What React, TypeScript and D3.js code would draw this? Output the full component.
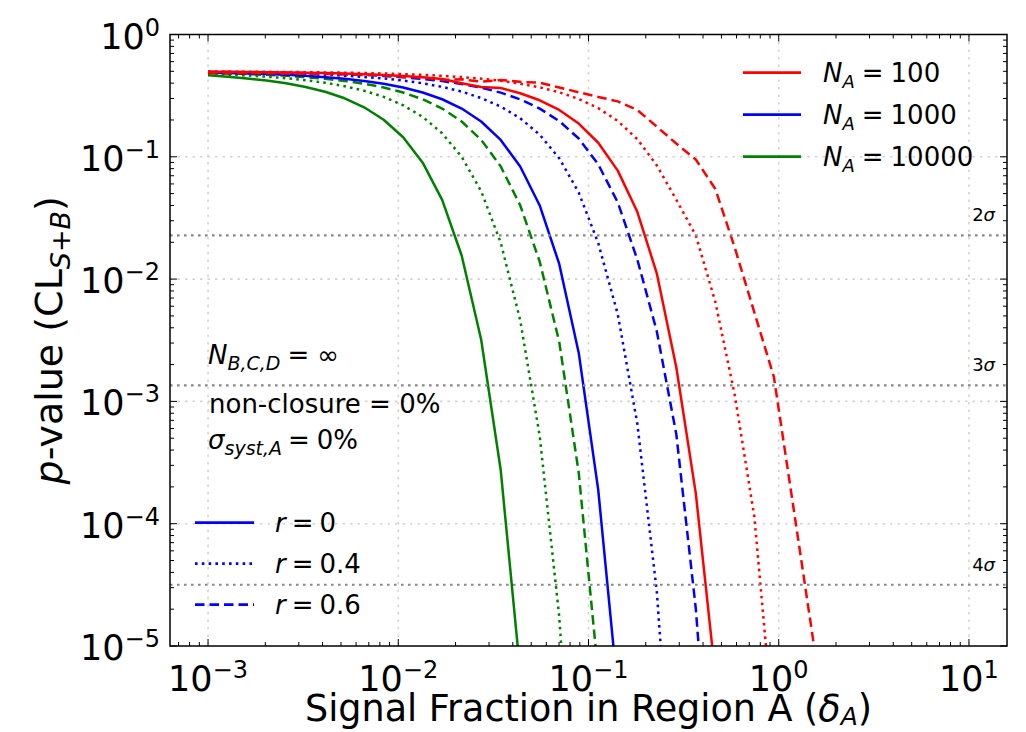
import React from "react";
import * as d3 from "d3";

// Sample grid of the signal fraction in region A
const deltaA = [
  0.001, 0.001267, 0.001604, 0.002031, 0.002572, 0.003257, 0.004125, 0.005224, 0.006616, 0.008377,
  0.01061, 0.01344, 0.01701, 0.02154, 0.02728, 0.03455, 0.04375, 0.0554, 0.07017, 0.08886,
  0.1125, 0.1425, 0.1805, 0.2285, 0.2894, 0.3665, 0.4642, 0.5878, 0.7444, 0.9427,
  1.194, 1.512, 1.915,
];

// p-values, N_A = 10000
const pN10000r0 = [0.465, 0.452, 0.437, 0.42, 0.399, 0.372, 0.34, 0.301, 0.254, 0.201, 0.1444, 0.0895, 0.0445, 0.0156, 0.00319, 2.75e-4, 6.1e-6];
const pN10000r04 = [0.4763, 0.47, 0.462, 0.4519, 0.4392, 0.4232, 0.4031, 0.378, 0.3469, 0.3091, 0.2639, 0.2119, 0.1557, 0.0999, 0.0523, 0.0199, 0.00462, 5.2e-4, 1.74e-5, 8e-8];
const pN10000r06 = [0.484, 0.4798, 0.4744, 0.4676, 0.459, 0.4482, 0.4345, 0.4172, 0.3957, 0.3688, 0.3356, 0.2954, 0.2481, 0.1944, 0.1376, 0.0835, 0.0401, 0.0139, 0.00307, 2.6e-4, 5.9e-6];

// p-values, N_A = 1000
const pN1000r0 = [0.4874, 0.484, 0.4798, 0.4744, 0.4676, 0.459, 0.4481, 0.4344, 0.4172, 0.3956, 0.3687, 0.3355, 0.2955, 0.248, 0.1943, 0.1374, 0.0833, 0.04, 0.01331, 0.00249, 1.89e-4, 4.3e-6];
const pN1000r04 = [0.4924, 0.4904, 0.4878, 0.4846, 0.4805, 0.4753, 0.4688, 0.4605, 0.45, 0.4368, 0.4201, 0.3992, 0.3733, 0.3412, 0.3022, 0.2578, 0.2067, 0.1515, 0.0972, 0.051, 0.0197, 0.00516, 6.6e-4, 2.8e-5, 1.7e-7];
const pN1000r06 = [0.495, 0.4937, 0.492, 0.4899, 0.4872, 0.4838, 0.4794, 0.474, 0.467, 0.4583, 0.4473, 0.4333, 0.4158, 0.3939, 0.3676, 0.3348, 0.2952, 0.2478, 0.196, 0.1411, 0.0868, 0.0424, 0.01448, 0.00375, 5.4e-4, 2.02e-5, 1.7e-7];

// p-values, N_A = 100
const pN100r0 = [0.496, 0.4949, 0.4936, 0.4919, 0.4897, 0.487, 0.4835, 0.4792, 0.4736, 0.4666, 0.4578, 0.4465, 0.4325, 0.4, 0.372, 0.365, 0.3309, 0.2898, 0.2414, 0.187, 0.1303, 0.0771, 0.0355, 0.01116, 0.0019, 1.77e-4, 5.75e-6];
const pN100r04 = [0.4976, 0.497, 0.4962, 0.4951, 0.4938, 0.4922, 0.4901, 0.4875, 0.4842, 0.4799, 0.4746, 0.4679, 0.4593, 0.4486, 0.435, 0.4179, 0.3965, 0.3698, 0.3369, 0.297, 0.2499, 0.1963, 0.1394, 0.0852, 0.0446, 0.02275, 0.00651, 0.00112, 1.14e-4, 1.92e-6];
const pN100r06 = [0.485, 0.484, 0.483, 0.482, 0.48, 0.478, 0.476, 0.473, 0.47, 0.465, 0.452, 0.445, 0.425, 0.43, 0.411, 0.425, 0.41, 0.403, 0.369, 0.337, 0.3086, 0.284, 0.2415, 0.1765, 0.1283, 0.095, 0.0546, 0.018, 0.00534, 0.00159, 1.37e-4, 1.16e-5, 5e-7];

const sigmaLevels = [0.02275, 0.00135, 3.167e-5];
const sigmaLabels = ["2", "3", "4"];

const xMajorTicks = [1e-3, 1e-2, 1e-1, 1e0, 1e1];
const xTickExps = ["\u22123", "\u22122", "\u22121", "0", "1"];
const yMajorTicks = [1, 1e-1, 1e-2, 1e-3, 1e-4, 1e-5];
const yTickExps = ["0", "\u22121", "\u22122", "\u22123", "\u22124", "\u22125"];

const legendN = ["100", "1000", "10000"];
const legendR = ["0", "0.4", "0.6"];

const RED = "#ff0000";
const BLUE = "#0000ff";
const GREEN = "#008000";
const DOT = "2.6,4.2";
const DASH = "9.5,5";

const curves = [
  { values: pN10000r0, color: GREEN, dash: null as string | null },
  { values: pN10000r04, color: GREEN, dash: DOT },
  { values: pN10000r06, color: GREEN, dash: DASH },
  { values: pN1000r0, color: BLUE, dash: null },
  { values: pN1000r04, color: BLUE, dash: DOT },
  { values: pN1000r06, color: BLUE, dash: DASH },
  { values: pN100r0, color: RED, dash: null },
  { values: pN100r04, color: RED, dash: DOT },
  { values: pN100r06, color: RED, dash: DASH },
];

const FONT = "DejaVu Sans";

export default function App() {
  const W = 1026;
  const H = 732;
  const left = 170;
  const right = 1007;
  const top = 34.5;
  const bottom = 646;

  const x = d3.scaleLog().domain([Math.pow(10, -3.2), Math.pow(10, 1.2)]).range([left, right]);
  const y = d3.scaleLog().domain([1, 1e-5]).range([top, bottom]);
  const line = d3
    .line<[number, number]>()
    .x((d) => x(d[0]))
    .y((d) => y(d[1]));

  const [xd0, xd1] = x.domain();
  const xMinor: number[] = [];
  for (let e = -4; e <= 1; e++) {
    for (let m = 2; m <= 9; m++) {
      const v = m * Math.pow(10, e);
      if (v > xd0 && v < xd1) xMinor.push(v);
    }
  }
  const yMinor: number[] = [];
  for (let e = -5; e <= -1; e++) {
    for (let m = 2; m <= 9; m++) yMinor.push(m * Math.pow(10, e));
  }

  const majLen = 7;
  const minLen = 4;

  return (
    <svg
      width={W}
      height={H}
      style={{ position: "absolute", left: 0, top: 0, background: "#fff" }}
      fontFamily={FONT}
    >
      <defs>
        <clipPath id="plotClip">
          <rect x={left} y={top} width={right - left} height={bottom - top} />
        </clipPath>
      </defs>
      <rect x={0} y={0} width={W} height={H} fill="#fff" />

      {/* grid */}
      <g stroke="#d4d4d4" strokeWidth={1.6} strokeDasharray="2.5,5">
        {xMajorTicks.map((v, i) => (
          <line key={"gx" + i} x1={x(v)} x2={x(v)} y1={top} y2={bottom} />
        ))}
        {yMajorTicks.slice(1, -1).map((v, i) => (
          <line key={"gy" + i} x1={left} x2={right} y1={y(v)} y2={y(v)} />
        ))}
      </g>

      {/* curves */}
      <g clipPath="url(#plotClip)" fill="none">
        {curves.map((c, i) => (
          <path
            key={"c" + i}
            d={line(c.values.map((p, j) => [deltaA[j], p] as [number, number])) || ""}
            stroke={c.color}
            strokeWidth={2.5}
            strokeDasharray={c.dash || undefined}
            strokeLinejoin="round"
          />
        ))}
      </g>

      {/* sigma lines */}
      <g stroke="#888888" strokeWidth={2.2} strokeDasharray="2.6,4.4">
        {sigmaLevels.map((p, i) => (
          <line key={"s" + i} x1={left} x2={right} y1={y(p)} y2={y(p)} />
        ))}
      </g>
      {sigmaLevels.map((p, i) => (
        <text key={"st" + i} x={995} y={y(p) - 14} fontSize={18} textAnchor="end" fill="#000">
          {sigmaLabels[i]}
          <tspan fontStyle="italic">σ</tspan>
        </text>
      ))}

      {/* ticks */}
      <g stroke="#000" strokeWidth={1}>
        {xMajorTicks.map((v, i) => (
          <g key={"xt" + i}>
            <line x1={x(v)} x2={x(v)} y1={bottom} y2={bottom - majLen} />
            <line x1={x(v)} x2={x(v)} y1={top} y2={top + majLen} />
          </g>
        ))}
        {xMinor.map((v, i) => (
          <g key={"xm" + i}>
            <line x1={x(v)} x2={x(v)} y1={bottom} y2={bottom - minLen} />
            <line x1={x(v)} x2={x(v)} y1={top} y2={top + minLen} />
          </g>
        ))}
        {yMajorTicks.map((v, i) => (
          <g key={"yt" + i}>
            <line x1={left} x2={left + majLen} y1={y(v)} y2={y(v)} />
            <line x1={right} x2={right - majLen} y1={y(v)} y2={y(v)} />
          </g>
        ))}
        {yMinor.map((v, i) => (
          <g key={"ym" + i}>
            <line x1={left} x2={left + minLen} y1={y(v)} y2={y(v)} />
            <line x1={right} x2={right - minLen} y1={y(v)} y2={y(v)} />
          </g>
        ))}
      </g>

      {/* frame */}
      <rect x={left} y={top} width={right - left} height={bottom - top} fill="none" stroke="#000" strokeWidth={1.5} />

      {/* tick labels */}
      {xMajorTicks.map((v, i) => (
        <text key={"xl" + i} x={x(v)} y={691} fontSize={35} textAnchor="middle" fill="#000">
          10
          <tspan dy={-13} fontSize={24}>
            {xTickExps[i]}
          </tspan>
        </text>
      ))}
      {yMajorTicks.map((v, i) => (
        <text key={"yl" + i} x={160} y={y(v) + 14} fontSize={35} textAnchor="end" fill="#000">
          10
          <tspan dy={-13} fontSize={24}>
            {yTickExps[i]}
          </tspan>
        </text>
      ))}

      {/* axis titles */}
      <text x={(left + right) / 2} y={721} fontSize={36.5} textAnchor="middle" fill="#000">
        Signal Fraction in Region A (<tspan fontStyle="italic">δ</tspan>
        <tspan dy={4} fontSize={25} fontStyle="italic">
          A
        </tspan>
        <tspan dy={-4}>)</tspan>
      </text>
      <text transform={`translate(62,${(top + bottom) / 2}) rotate(-90)`} fontSize={38} textAnchor="middle" fill="#000">
        <tspan fontStyle="italic">p</tspan>-value (CL
        <tspan dy={8} fontSize={27} fontStyle="italic">
          S
        </tspan>
        <tspan fontSize={27}>+</tspan>
        <tspan fontSize={27} fontStyle="italic">
          B
        </tspan>
        <tspan dy={-8}>)</tspan>
      </text>

      {/* annotations */}
      <text x={208} y={364} fontSize={26} fill="#000">
        <tspan fontStyle="italic">N</tspan>
        <tspan dy={6} fontSize={19} fontStyle="italic">
          B,C,D
        </tspan>
        <tspan dy={-6} dx={7}>=</tspan>
        <tspan dx={8}>∞</tspan>
      </text>
      <text x={209} y={413} fontSize={26} fill="#000">
        non-closure = 0%
      </text>
      <text x={208} y={449} fontSize={26} fill="#000">
        <tspan fontStyle="italic">σ</tspan>
        <tspan dy={6} fontSize={19} fontStyle="italic">
          syst,A
        </tspan>
        <tspan dy={-6} dx={6}>=</tspan>
        <tspan dx={7}>0%</tspan>
      </text>

      {/* legend: N_A */}
      {legendN.map((n, i) => {
        const ly = 72.7 + i * 42;
        const col = [RED, BLUE, GREEN][i];
        return (
          <g key={"ln" + i}>
            <line x1={743} x2={801} y1={ly} y2={ly} stroke={col} strokeWidth={2.7} />
            <text x={823} y={ly + 9.5} fontSize={26} fill="#000">
              <tspan fontStyle="italic">N</tspan>
              <tspan dy={6} fontSize={18} fontStyle="italic">
                A
              </tspan>
              <tspan dy={-6} dx={7}>=</tspan>
              <tspan dx={7}>{n}</tspan>
            </text>
          </g>
        );
      })}

      {/* legend: r */}
      {legendR.map((r, i) => {
        const ly = 522.7 + i * 41;
        const dash = [null, DOT, DASH][i];
        return (
          <g key={"lr" + i}>
            <line x1={195} x2={254} y1={ly} y2={ly} stroke={BLUE} strokeWidth={2.7} strokeDasharray={dash || undefined} />
            <text x={275} y={ly + 9.5} fontSize={26} fill="#000">
              <tspan fontStyle="italic">r</tspan>
              <tspan dx={6}>=</tspan>
              <tspan dx={6}>{r}</tspan>
            </text>
          </g>
        );
      })}
    </svg>
  );
}
